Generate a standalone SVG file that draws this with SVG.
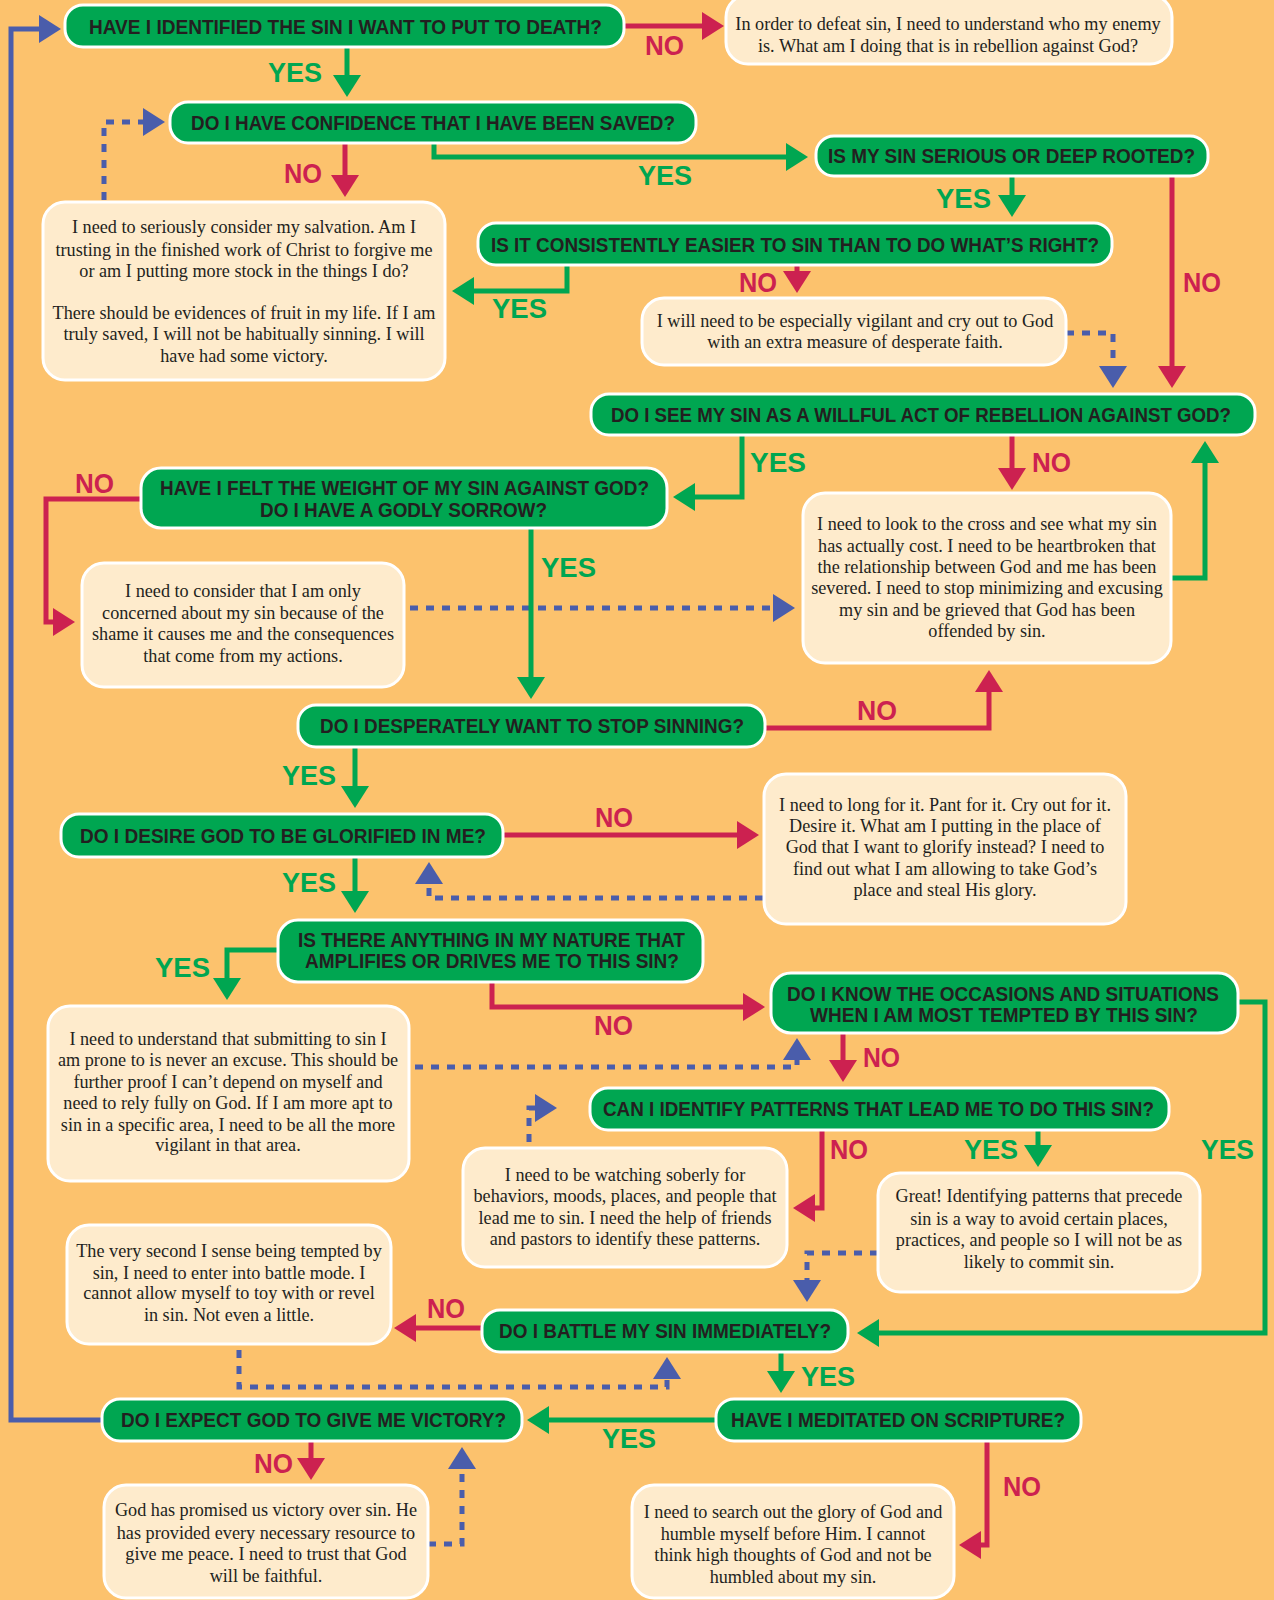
<svg xmlns="http://www.w3.org/2000/svg" width="1274" height="1600" viewBox="0 0 1274 1600">
<defs>
<style>
.q{fill:#00A651;stroke:#fff;stroke-width:3}
.b{fill:#FEEBCC;stroke:#fff;stroke-width:3}
.qt{font-family:"Liberation Sans",Arial,sans-serif;font-weight:bold;font-size:21px;fill:#231F20;text-anchor:middle}
.bt{font-family:"Liberation Serif","Times New Roman",serif;font-size:18.2px;fill:#231F20;text-anchor:middle}
.yes{font-family:"Liberation Sans",Arial,sans-serif;font-weight:bold;font-size:27px;fill:#00A651}
.no{font-family:"Liberation Sans",Arial,sans-serif;font-weight:bold;font-size:27px;fill:#CC2150}
.g{fill:none;stroke:#00A651;stroke-width:5;marker-end:url(#ag)}
.r{fill:none;stroke:#CC2150;stroke-width:5;marker-end:url(#ar)}
.d{fill:none;stroke:#4A5DAB;stroke-width:5;stroke-dasharray:8 8;marker-end:url(#ab)}
.s{fill:none;stroke:#4A5DAB;stroke-width:5;marker-end:url(#ab)}
</style>
<marker id="ag" viewBox="0 0 22 28" refX="10" refY="14" markerWidth="22" markerHeight="28" markerUnits="userSpaceOnUse" orient="auto"><path d="M0,0 L22,14 L0,28 Z" fill="#00A651"/></marker>
<marker id="ar" viewBox="0 0 22 28" refX="10" refY="14" markerWidth="22" markerHeight="28" markerUnits="userSpaceOnUse" orient="auto"><path d="M0,0 L22,14 L0,28 Z" fill="#CC2150"/></marker>
<marker id="ab" viewBox="0 0 22 28" refX="10" refY="14" markerWidth="22" markerHeight="28" markerUnits="userSpaceOnUse" orient="auto"><path d="M0,0 L22,14 L0,28 Z" fill="#4A5DAB"/></marker>
</defs>
<rect x="0" y="0" width="1274" height="1600" fill="#FCC26D"/>

<g id="connectors">
<path class="r" d="M624,26 H712"/>
<path class="g" d="M347,47 V85"/>
<path class="d" d="M104,200 V122 H153"/>
<path class="r" d="M345,143 V185"/>
<path class="g" d="M434,143 V157 H796"/>
<path class="g" d="M1012,176 V205"/>
<path class="r" d="M1172,176 V376"/>
<path class="g" d="M567,265 V291 H464"/>
<path class="r" d="M797,265 V281"/>
<path class="d" d="M1066,333 H1113 V376"/>
<path class="g" d="M742,435 V497 H685"/>
<path class="r" d="M1012,435 V478"/>
<path class="g" d="M1171,578 H1205 V453"/>
<path class="r" d="M141,499 H46 V622 H63"/>
<path class="d" d="M410,608 H783"/>
<path class="g" d="M531,528 V687"/>
<path class="r" d="M765,728 H989 V682"/>
<path class="g" d="M355,747 V796"/>
<path class="r" d="M503,835 H747"/>
<path class="d" d="M763,898 H429 V874"/>
<path class="g" d="M355,857 V901"/>
<path class="g" d="M278,950 H227 V988"/>
<path class="r" d="M492,982 V1007 H753"/>
<path class="d" d="M415,1067 H797 V1050"/>
<path class="g" d="M1238,1002 H1265 V1333 H869"/>
<path class="r" d="M843,1033 V1070"/>
<path class="d" d="M529,1142 V1108 H545"/>
<path class="r" d="M822,1130 V1208 H805"/>
<path class="g" d="M1038,1130 V1155"/>
<path class="d" d="M878,1253 H807 V1290"/>
<path class="r" d="M482,1328 H406"/>
<path class="g" d="M781,1352 V1381"/>
<path class="d" d="M239,1350 V1387 H667 V1369"/>
<path class="s" d="M102,1420 H11 V29 H49"/>
<path class="g" d="M716,1420 H539"/>
<path class="r" d="M987,1441 V1545 H971"/>
<path class="r" d="M311,1441 V1468"/>
<path class="d" d="M428,1544 H462 V1459"/>
</g>

<g id="labels">
<text class="no" x="645" y="55" textLength="39" lengthAdjust="spacingAndGlyphs">NO</text>
<text class="yes" x="268" y="82" textLength="54" lengthAdjust="spacingAndGlyphs">YES</text>
<text class="no" x="284" y="183" textLength="38" lengthAdjust="spacingAndGlyphs">NO</text>
<text class="yes" x="638" y="185" textLength="54" lengthAdjust="spacingAndGlyphs">YES</text>
<text class="yes" x="936" y="208" textLength="55" lengthAdjust="spacingAndGlyphs">YES</text>
<text class="no" x="1183" y="292" textLength="38" lengthAdjust="spacingAndGlyphs">NO</text>
<text class="yes" x="492" y="318" textLength="55" lengthAdjust="spacingAndGlyphs">YES</text>
<text class="no" x="739" y="292" textLength="38" lengthAdjust="spacingAndGlyphs">NO</text>
<text class="yes" x="750" y="472" textLength="56" lengthAdjust="spacingAndGlyphs">YES</text>
<text class="no" x="1032" y="472" textLength="39" lengthAdjust="spacingAndGlyphs">NO</text>
<text class="no" x="75" y="493" textLength="39" lengthAdjust="spacingAndGlyphs">NO</text>
<text class="yes" x="541" y="577" textLength="55" lengthAdjust="spacingAndGlyphs">YES</text>
<text class="no" x="857" y="720" textLength="40" lengthAdjust="spacingAndGlyphs">NO</text>
<text class="yes" x="282" y="785" textLength="54" lengthAdjust="spacingAndGlyphs">YES</text>
<text class="no" x="595" y="827" textLength="38" lengthAdjust="spacingAndGlyphs">NO</text>
<text class="yes" x="282" y="892" textLength="54" lengthAdjust="spacingAndGlyphs">YES</text>
<text class="yes" x="155" y="977" textLength="55" lengthAdjust="spacingAndGlyphs">YES</text>
<text class="no" x="594" y="1035" textLength="39" lengthAdjust="spacingAndGlyphs">NO</text>
<text class="yes" x="1201" y="1159" textLength="53" lengthAdjust="spacingAndGlyphs">YES</text>
<text class="no" x="863" y="1067" textLength="37" lengthAdjust="spacingAndGlyphs">NO</text>
<text class="no" x="830" y="1159" textLength="38" lengthAdjust="spacingAndGlyphs">NO</text>
<text class="yes" x="964" y="1159" textLength="54" lengthAdjust="spacingAndGlyphs">YES</text>
<text class="no" x="427" y="1318" textLength="38" lengthAdjust="spacingAndGlyphs">NO</text>
<text class="yes" x="801" y="1386" textLength="54" lengthAdjust="spacingAndGlyphs">YES</text>
<text class="yes" x="602" y="1448" textLength="54" lengthAdjust="spacingAndGlyphs">YES</text>
<text class="no" x="1003" y="1496" textLength="38" lengthAdjust="spacingAndGlyphs">NO</text>
<text class="no" x="254" y="1473" textLength="39" lengthAdjust="spacingAndGlyphs">NO</text>
</g>

<g id="q1"><rect class="q" x="65" y="5" width="559" height="42" rx="18"/><text class="qt" x="345.5" y="34" textLength="513" lengthAdjust="spacingAndGlyphs">HAVE I IDENTIFIED THE SIN I WANT TO PUT TO DEATH?</text></g>
<g id="b1"><rect class="b" x="726" y="-5" width="446" height="69" rx="22"/><text class="bt" x="948" y="30">In order to defeat sin, I need to understand who my enemy</text><text class="bt" x="948" y="51.5">is. What am I doing that is in rebellion against God?</text></g>
<g id="q2"><rect class="q" x="170" y="102" width="526" height="41" rx="18"/><text class="qt" x="433" y="130" textLength="484" lengthAdjust="spacingAndGlyphs">DO I HAVE CONFIDENCE THAT I HAVE BEEN SAVED?</text></g>
<g id="b2"><rect class="b" x="43" y="202" width="402" height="178" rx="22"/>
<text class="bt" x="244" y="233">I need to seriously consider my salvation. Am I</text>
<text class="bt" x="244" y="255.5">trusting in the finished work of Christ to forgive me</text>
<text class="bt" x="244" y="276.5">or am I putting more stock in the things I do?</text>
<text class="bt" x="244" y="318.5">There should be evidences of fruit in my life. If I am</text>
<text class="bt" x="244" y="340">truly saved, I will not be habitually sinning. I will</text>
<text class="bt" x="244" y="361.5">have had some victory.</text></g>
<g id="q3"><rect class="q" x="816" y="136" width="392" height="40" rx="18"/><text class="qt" x="1011.5" y="163" textLength="367" lengthAdjust="spacingAndGlyphs">IS MY SIN SERIOUS OR DEEP ROOTED?</text></g>
<g id="q4"><rect class="q" x="478" y="223" width="634" height="42" rx="18"/><text class="qt" x="795" y="252" textLength="608" lengthAdjust="spacingAndGlyphs">IS IT CONSISTENTLY EASIER TO SIN THAN TO DO WHAT’S RIGHT?</text></g>
<g id="b3"><rect class="b" x="642" y="298" width="424" height="67" rx="22"/>
<text class="bt" x="855" y="327">I will need to be especially vigilant and cry out to God</text>
<text class="bt" x="855" y="348">with an extra measure of desperate faith.</text></g>
<g id="q6"><rect class="q" x="591" y="394" width="664" height="41" rx="18"/><text class="qt" x="921" y="422" textLength="620" lengthAdjust="spacingAndGlyphs">DO I SEE MY SIN AS A WILLFUL ACT OF REBELLION AGAINST GOD?</text></g>
<g id="q7"><rect class="q" x="141" y="468" width="526" height="60" rx="20"/>
<text class="qt" x="404.5" y="495" textLength="489" lengthAdjust="spacingAndGlyphs">HAVE I FELT THE WEIGHT OF MY SIN AGAINST GOD?</text>
<text class="qt" x="403.5" y="517" textLength="287" lengthAdjust="spacingAndGlyphs">DO I HAVE A GODLY SORROW?</text></g>
<g id="b6"><rect class="b" x="803" y="493" width="368" height="170" rx="22"/>
<text class="bt" x="987" y="530">I need to look to the cross and see what my sin</text>
<text class="bt" x="987" y="551.5">has actually cost. I need to be heartbroken that</text>
<text class="bt" x="987" y="573">the relationship between God and me has been</text>
<text class="bt" x="987" y="594">severed. I need to stop minimizing and excusing</text>
<text class="bt" x="987" y="615.5">my sin and be grieved that God has been</text>
<text class="bt" x="987" y="637">offended by sin.</text></g>
<g id="b7"><rect class="b" x="82" y="563" width="322" height="124" rx="22"/>
<text class="bt" x="243" y="597">I need to consider that I am only</text>
<text class="bt" x="243" y="618.5">concerned about my sin because of the</text>
<text class="bt" x="243" y="640">shame it causes me and the consequences</text>
<text class="bt" x="243" y="661.5">that come from my actions.</text></g>
<g id="q8"><rect class="q" x="298" y="705" width="467" height="42" rx="18"/><text class="qt" x="532" y="733" textLength="424" lengthAdjust="spacingAndGlyphs">DO I DESPERATELY WANT TO STOP SINNING?</text></g>
<g id="q9"><rect class="q" x="61" y="814" width="442" height="43" rx="18"/><text class="qt" x="283" y="843" textLength="406" lengthAdjust="spacingAndGlyphs">DO I DESIRE GOD TO BE GLORIFIED IN ME?</text></g>
<g id="b9"><rect class="b" x="764" y="774" width="362" height="150" rx="22"/>
<text class="bt" x="945" y="811">I need to long for it. Pant for it. Cry out for it.</text>
<text class="bt" x="945" y="832">Desire it. What am I putting in the place of</text>
<text class="bt" x="945" y="853">God that I want to glorify instead? I need to</text>
<text class="bt" x="945" y="874.5">find out what I am allowing to take God’s</text>
<text class="bt" x="945" y="896">place and steal His glory.</text></g>
<g id="q10"><rect class="q" x="278" y="920" width="425" height="62" rx="20"/>
<text class="qt" x="491.5" y="947" textLength="387" lengthAdjust="spacingAndGlyphs">IS THERE ANYTHING IN MY NATURE THAT</text>
<text class="qt" x="492" y="968" textLength="374" lengthAdjust="spacingAndGlyphs">AMPLIFIES OR DRIVES ME TO THIS SIN?</text></g>
<g id="b10"><rect class="b" x="48" y="1006" width="361" height="175" rx="22"/>
<text class="bt" x="228" y="1045">I need to understand that submitting to sin I</text>
<text class="bt" x="228" y="1066">am prone to is never an excuse. This should be</text>
<text class="bt" x="228" y="1088">further proof I can’t depend on myself and</text>
<text class="bt" x="228" y="1109">need to rely fully on God. If I am more apt to</text>
<text class="bt" x="228" y="1130.5">sin in a specific area, I need to be all the more</text>
<text class="bt" x="228" y="1151">vigilant in that area.</text></g>
<g id="q11"><rect class="q" x="771" y="973" width="467" height="60" rx="20"/>
<text class="qt" x="1003" y="1001" textLength="432" lengthAdjust="spacingAndGlyphs">DO I KNOW THE OCCASIONS AND SITUATIONS</text>
<text class="qt" x="1004" y="1022" textLength="388" lengthAdjust="spacingAndGlyphs">WHEN I AM MOST TEMPTED BY THIS SIN?</text></g>
<g id="q12"><rect class="q" x="590" y="1088" width="579" height="42" rx="18"/><text class="qt" x="878.5" y="1116" textLength="551" lengthAdjust="spacingAndGlyphs">CAN I IDENTIFY PATTERNS THAT LEAD ME TO DO THIS SIN?</text></g>
<g id="b12"><rect class="b" x="463" y="1148" width="324" height="119" rx="22"/>
<text class="bt" x="625" y="1180.5">I need to be watching soberly for</text>
<text class="bt" x="625" y="1202">behaviors, moods, places, and people that</text>
<text class="bt" x="625" y="1223.5">lead me to sin. I need the help of friends</text>
<text class="bt" x="625" y="1244.5">and pastors to identify these patterns.</text></g>
<g id="b13"><rect class="b" x="878" y="1173" width="322" height="119" rx="22"/>
<text class="bt" x="1039" y="1202">Great! Identifying patterns that precede</text>
<text class="bt" x="1039" y="1224.5">sin is a way to avoid certain places,</text>
<text class="bt" x="1039" y="1245.5">practices, and people so I will not be as</text>
<text class="bt" x="1039" y="1267.5">likely to commit sin.</text></g>
<g id="b14"><rect class="b" x="67" y="1225" width="324" height="119" rx="22"/>
<text class="bt" x="229" y="1257">The very second I sense being tempted by</text>
<text class="bt" x="229" y="1278.5">sin, I need to enter into battle mode. I</text>
<text class="bt" x="229" y="1298.5">cannot allow myself to toy with or revel</text>
<text class="bt" x="229" y="1320.5">in sin. Not even a little.</text></g>
<g id="q13"><rect class="q" x="482" y="1310" width="366" height="42" rx="18"/><text class="qt" x="665" y="1338" textLength="332" lengthAdjust="spacingAndGlyphs">DO I BATTLE MY SIN IMMEDIATELY?</text></g>
<g id="q14"><rect class="q" x="102" y="1399" width="420" height="42" rx="18"/><text class="qt" x="313.5" y="1427" textLength="385" lengthAdjust="spacingAndGlyphs">DO I EXPECT GOD TO GIVE ME VICTORY?</text></g>
<g id="q15"><rect class="q" x="716" y="1399" width="365" height="42" rx="18"/><text class="qt" x="898" y="1427" textLength="334" lengthAdjust="spacingAndGlyphs">HAVE I MEDITATED ON SCRIPTURE?</text></g>
<g id="b15"><rect class="b" x="104" y="1485" width="324" height="113" rx="22"/>
<text class="bt" x="266" y="1516">God has promised us victory over sin. He</text>
<text class="bt" x="266" y="1538.5">has provided every necessary resource to</text>
<text class="bt" x="266" y="1560">give me peace. I need to trust that God</text>
<text class="bt" x="266" y="1581.5">will be faithful.</text></g>
<g id="b16"><rect class="b" x="632" y="1485" width="322" height="113" rx="22"/>
<text class="bt" x="793" y="1518">I need to search out the glory of God and</text>
<text class="bt" x="793" y="1539.5">humble myself before Him. I cannot</text>
<text class="bt" x="793" y="1561">think high thoughts of God and not be</text>
<text class="bt" x="793" y="1582.5">humbled about my sin.</text></g>
</svg>
